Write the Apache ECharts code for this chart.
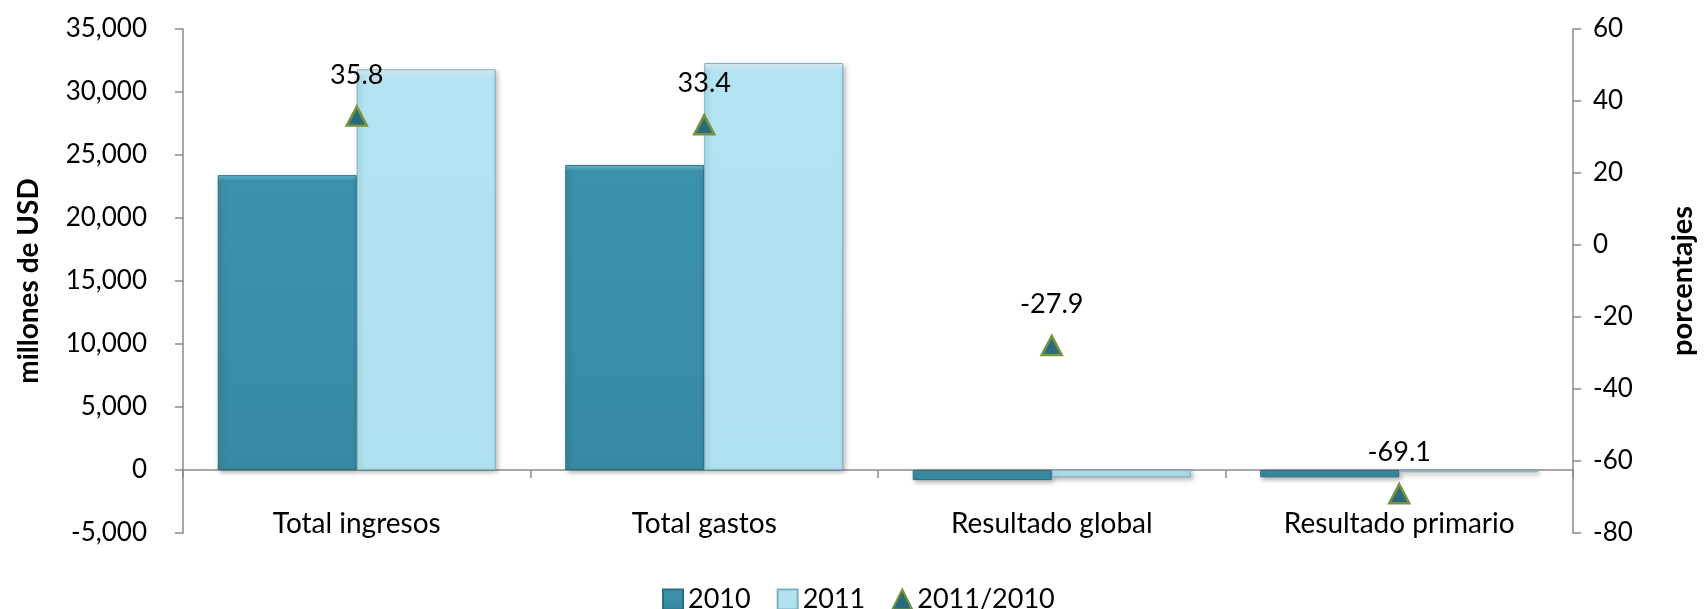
<!DOCTYPE html>
<html>
<head>
<meta charset="utf-8">
<script src="https://cdn.jsdelivr.net/npm/echarts@6/dist/echarts.min.js"></script>
<style>html,body{margin:0;padding:0;background:#fff}#c{width:1705px;height:609px}</style>
</head>
<body>
<div id="c"></div>
<script>
const categories = ['Total ingresos', 'Total gastos', 'Resultado global', 'Resultado primario'];
const values2010 = [23400, 24200, -800, -580];
const values2011 = [31800, 32300, -577, -180];
const growth = [35.8, 33.4, -27.9, -69.1];
const leftTicks = { min: -5000, max: 35000, interval: 5000 };
const rightTicks = { min: -80, max: 60, interval: 20 };

const FONT = 'Lato';
const chart = echarts.init(document.getElementById('c'));
const axisGrey = '#8a8a8a';
chart.setOption({
  animation: false,
  backgroundColor: '#ffffff',
  textStyle: { fontFamily: FONT, color: '#000' },
  grid: { left: 183, right: 130, top: 29, bottom: 76 },
  legend: {
    left: 657, top: 581,
    itemWidth: 20, itemHeight: 20, itemGap: 26,
    textStyle: { fontSize: 27, fontFamily: FONT, color: '#000' },
    data: [
      { name: '2010', icon: 'rect' },
      { name: '2011', icon: 'rect' },
      { name: '2011/2010', icon: 'triangle' }
    ]
  },
  xAxis: {
    type: 'category',
    data: categories,
    axisLine: { onZero: true, onZeroAxisIndex: 0, lineStyle: { color: axisGrey, width: 1.5 } },
    axisTick: { show: true, length: 8, lineStyle: { color: axisGrey, width: 1.5 } },
    axisLabel: { fontSize: 28, margin: -23, color: '#000', fontFamily: FONT }
  },
  yAxis: [
    {
      type: 'value', position: 'left',
      min: leftTicks.min, max: leftTicks.max, interval: leftTicks.interval,
      name: 'millones de USD', nameLocation: 'middle', nameGap: 140, nameRotate: 90,
      nameTextStyle: { fontSize: 28, fontWeight: 'bold', fontFamily: FONT, color: '#000' },
      axisLine: { show: true, lineStyle: { color: axisGrey, width: 1.5 } },
      axisTick: { show: true, length: 8, lineStyle: { color: axisGrey, width: 1.5 } },
      splitLine: { show: false },
      axisLabel: { fontSize: 26, margin: 36, color: '#000', fontFamily: FONT,
        formatter: v => v.toLocaleString('en-US') }
    },
    {
      type: 'value', position: 'right',
      min: rightTicks.min, max: rightTicks.max, interval: rightTicks.interval,
      name: 'porcentajes', nameLocation: 'middle', nameGap: 95, nameRotate: 90,
      nameTextStyle: { fontSize: 29, fontWeight: 'bold', fontFamily: FONT, color: '#000' },
      axisLine: { show: true, lineStyle: { color: axisGrey, width: 1.5 } },
      axisTick: { show: true, length: 8, lineStyle: { color: axisGrey, width: 1.5 } },
      splitLine: { show: false },
      axisLabel: { fontSize: 26, margin: 20, color: '#000', fontFamily: FONT }
    }
  ],
  series: [
    {
      name: '2010', type: 'bar', yAxisIndex: 0, data: values2010,
      barGap: '0%', barCategoryGap: '20%',
      itemStyle: {
        color: new echarts.graphic.LinearGradient(0, 0, 0, 1, [
          { offset: 0, color: '#6cc6de' }, { offset: 0.02, color: '#3c92ab' }, { offset: 1, color: '#388aa3' }
        ]),
        borderColor: '#2a6e82', borderWidth: 1,
        shadowColor: 'rgba(0,0,0,0.35)', shadowBlur: 5, shadowOffsetX: 2, shadowOffsetY: 2
      }
    },
    {
      name: '2011', type: 'bar', yAxisIndex: 0, data: values2011,
      itemStyle: {
        color: new echarts.graphic.LinearGradient(0, 0, 0, 1, [
          { offset: 0, color: '#e6f8fd' }, { offset: 0.02, color: '#b4e3f1' }, { offset: 1, color: '#b0e1ef' }
        ]),
        borderColor: '#7ab2c4', borderWidth: 1,
        shadowColor: 'rgba(0,0,0,0.3)', shadowBlur: 5, shadowOffsetX: 2, shadowOffsetY: 2
      }
    },
    {
      name: '2011/2010', type: 'line', yAxisIndex: 1, data: growth,
      symbol: 'triangle', symbolSize: [20, 19],
      lineStyle: { width: 0, opacity: 0 },
      itemStyle: { color: '#2b6b7e', borderColor: '#77933c', borderWidth: 2.5 },
      label: { show: true, position: 'top', distance: 17, fontSize: 27, color: '#000', fontFamily: FONT,
        formatter: p => p.value.toFixed(1) },
      z: 10
    }
  ]
});
</script>
</body>
</html>
